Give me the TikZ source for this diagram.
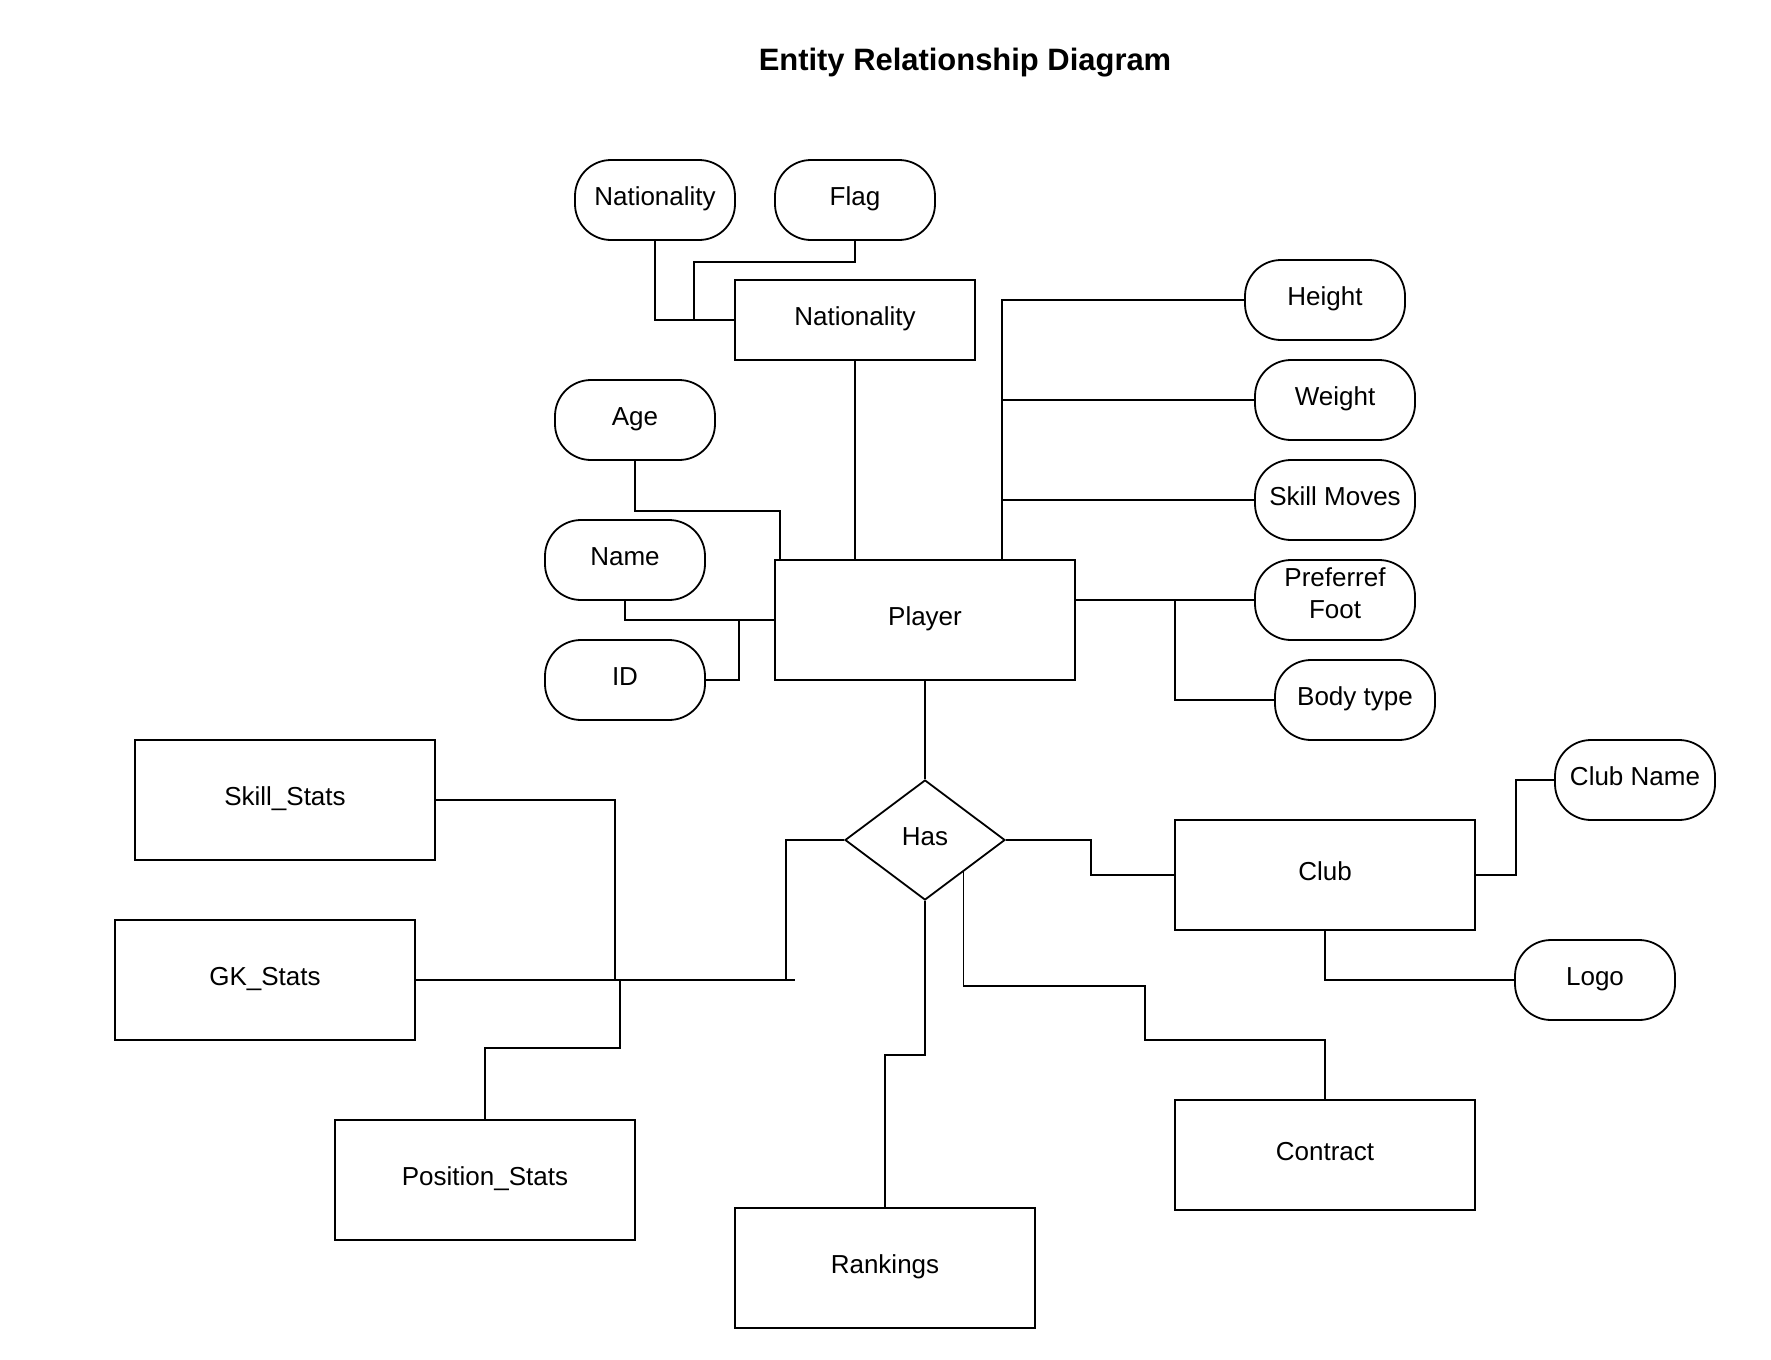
\documentclass[tikz,border=0pt]{standalone}
\usepackage{fontspec}
\setmainfont{Liberation Sans}
\usetikzlibrary{shapes.geometric,calc}
\begin{document}
\begin{tikzpicture}[x=0.75pt,y=-0.75pt,line width=1.35pt,
  txt/.style={font=\fontsize{19.5}{24}\selectfont},
  base/.style={draw,line width=1.35pt,txt,text height=14pt,text depth=6pt,inner sep=0pt},
  attr/.style={base,rectangle,rounded corners=27pt,minimum width=120pt,minimum height=60pt},
  ent/.style={base,rectangle,minimum width=225pt,minimum height=90pt},
  entsm/.style={base,rectangle,minimum width=225pt,minimum height=82.5pt},
  entnat/.style={base,rectangle,minimum width=180pt,minimum height=60pt},
  rel/.style={base,diamond,minimum width=120pt,minimum height=90pt},
  conn/.style={draw,line width=1.35pt}]
\fill[white] (0,0) rectangle (1771,1360);
\useasboundingbox (0,0) rectangle (1771,1360);

% title
\node[font=\bfseries\fontsize{23.2}{27}\selectfont,anchor=base,inner sep=0pt] (title) at (965,70) {Entity Relationship Diagram};

% attributes
\node[attr] (natA) at (655,200) {Nationality};
\node[attr] (flag) at (855,200) {Flag};
\node[attr] (age) at (635,420) {Age};
\node[attr] (name) at (625,560) {Name};
\node[attr] (id) at (625,680) {ID};
\node[attr] (height) at (1325,300) {Height};
\node[attr] (weight) at (1335,400) {Weight};
\node[attr] (skillm) at (1335,500) {Skill Moves};
\node[attr] (foot) at (1335,600) {};
\node[txt,align=center,inner sep=0pt] (foottext) at ($(foot.center)+(0,-7)$) {Preferref\\Foot};
\node[attr] (body) at (1355,700) {Body type};
\node[attr] (clubname) at (1635,780) {Club Name};
\node[attr] (logo) at (1595,980) {Logo};

% entities
\node[entnat] (natE) at (855,320) {Nationality};
\node[ent] (player) at (925,620) {Player};
\node[ent] (skill) at (285,800) {Skill\_Stats};
\node[ent] (gk) at (265,980) {GK\_Stats};
\node[ent] (pos) at (485,1180) {Position\_Stats};
\node[ent] (rank) at (885,1268) {Rankings};
\node[entsm] (club) at (1325,875) {Club};
\node[entsm] (contract) at (1325,1155) {Contract};

% relationship
\node[rel] (has) at (925,840) {Has};

% junction coordinates
\coordinate (j1) at (694,320);
\coordinate (vr) at (1002,560);
\coordinate (j3) at (1175,600);
\coordinate (jL) at (786,980);
\coordinate (jLend) at (795,980);
\coordinate (jS) at (615,980);
\coordinate (jP) at (620,980);

% connectors
\draw[conn] (natA.south) |- (natE.west);
\draw[conn] (flag.south) -- ++(0,21) -| (j1);
\draw[conn] (natE.south) -- (natE.south |- player.north);
\draw[conn] (age.south) -- ++(0,50) -| ($(player.north west)+(6,0)$);
\draw[conn] (name.south) |- (player.west);
\draw[conn] (id.east) -| ($(player.west)+(-35,0)$);
\draw[conn] (vr) |- (height.west);
\draw[conn] (weight.west) -- (weight.west -| vr);
\draw[conn] (skillm.west) -- (skillm.west -| vr);
\draw[conn] (player.east |- foot.west) -- (foot.west);
\draw[conn] (body.west) -| (j3);
\draw[conn] (player.south) -- (has.north);
\draw[conn] (has.west) -| (jL);
\draw[conn] (gk.east) -- (jLend);
\draw[conn] (skill.east) -| (jS);
\draw[conn] (pos.north) -- ++(0,-71) -| (jP);
\draw[conn] (has.south) -- ++(0,154) -| (rank.north);
\draw[conn] ($(has.east)!0.525!(has.south)$) -- ++(0,114) -| (1145,1040) -| (contract.north);
\draw[conn] (has.east) -- ++(85,0) |- (club.west);
\draw[conn] (club.east) -- ++(40,0) |- (clubname.west);
\draw[conn] (club.south) |- (logo.west);
\end{tikzpicture}
\end{document}
